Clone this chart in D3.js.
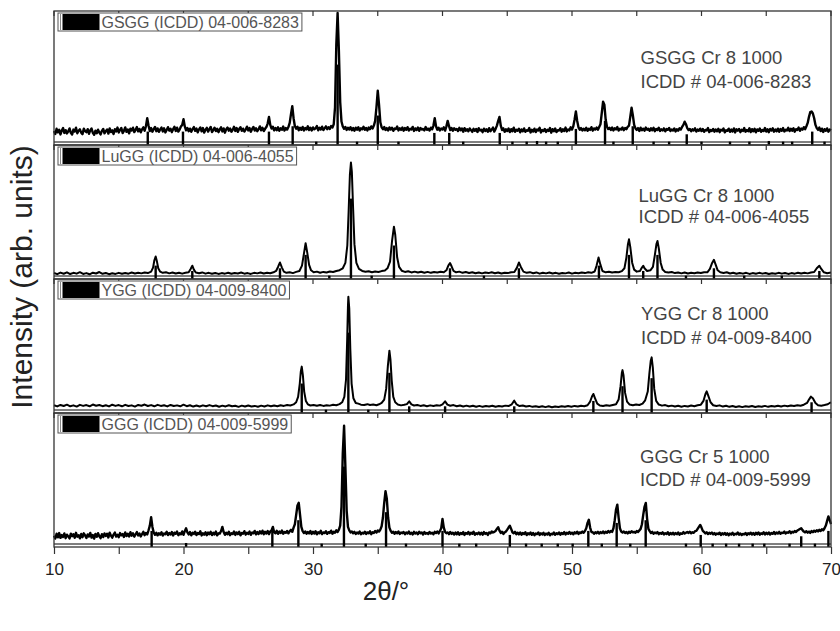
<!DOCTYPE html>
<html><head><meta charset="utf-8">
<script src="https://cdn.jsdelivr.net/npm/d3@7"></script>
<style>body{margin:0;background:#fff}</style>
</head><body><svg id="c" width="840" height="631"></svg>
<script>
// ---------- DATA (2θ, intensity in % of panel height) ----------
// GSGG and GGG: read every 0.1° starting at 10°
const gsggStart=10, gsggStep=0.1;
const gsggValues=[
10.5,8.2,12.1,9.4,11.3,7.9,10.8,12.6,9.0,11.1,
8.6,10.2,12.4,9.1,7.8,11.5,10.0,12.9,8.8,10.6,
11.7,9.2,8.1,12.2,10.4,9.6,11.8,8.4,10.9,12.3,
9.0,7.6,10.7,8.8,11.4,9.3,7.9,10.5,12.0,8.7,
10.3,11.6,8.5,12.4,9.7,10.9,8.2,11.8,10.1,13.0,
9.4,11.2,12.7,8.9,10.6,13.1,9.8,11.5,8.7,12.2,
10.8,12.9,9.6,11.3,13.4,10.2,12.0,9.5,11.7,13.2,
10.6,14.0,20.0,14.5,10.4,12.6,9.9,11.9,13.5,10.3,
12.4,9.8,11.6,13.0,10.1,12.5,9.4,11.2,13.3,10.7,
12.1,9.6,11.8,13.6,10.5,12.9,10.0,11.5,13.8,15.0,
19.2,13.9,11.0,12.7,10.3,12.2,9.8,11.9,13.4,10.6,
12.3,9.5,11.7,13.1,10.2,12.6,9.3,11.4,12.8,10.0,
11.9,13.5,9.7,11.2,12.9,10.4,12.1,9.6,11.6,13.2,
10.1,12.4,9.2,11.8,13.0,10.7,12.3,9.9,11.3,13.6,
10.5,12.7,9.8,11.9,13.3,10.6,12.2,10.0,11.5,13.7,
10.9,12.6,9.9,12.0,13.5,10.8,12.4,10.3,11.8,13.9,
11.0,12.8,10.4,12.1,13.4,16.0,21.0,15.0,12.3,13.6,
10.9,12.7,11.1,13.2,10.6,12.5,11.4,13.8,10.8,12.6,
11.5,13.4,16.5,23.0,29.0,20.0,14.0,12.2,13.6,11.0,
12.9,11.3,13.5,10.8,12.7,11.6,14.0,11.2,12.8,10.9,
13.1,11.7,12.4,14.2,11.0,12.9,11.5,13.7,11.1,12.6,
13.9,11.8,13.2,12.0,14.1,13.0,15.5,28.0,75.0,98.5,
70.0,32.0,17.5,13.8,12.1,13.5,11.2,12.8,11.6,13.3,
11.0,12.6,10.7,12.9,11.4,13.2,10.8,12.4,11.7,13.6,
11.3,12.7,10.9,13.0,11.8,13.9,12.4,14.5,18.0,28.0,
40.5,30.0,17.0,13.2,11.8,13.4,11.2,12.6,10.8,13.1,
11.5,12.9,10.6,12.3,11.9,13.8,10.9,12.5,11.3,13.0,
10.7,12.6,11.4,13.3,10.8,12.1,11.6,13.5,10.5,12.4,
11.2,13.1,10.6,12.7,11.5,12.0,10.9,13.4,11.3,12.2,
10.8,12.9,11.7,14.5,20.0,14.0,11.4,12.8,10.9,12.3,
11.6,13.2,10.7,13.9,18.0,14.2,11.1,12.7,10.6,12.5,
11.3,12.0,10.4,12.8,11.0,12.3,9.9,12.6,10.7,11.8,
10.2,12.4,11.1,9.8,12.1,10.6,11.9,9.7,12.5,10.8,
11.4,9.6,12.2,10.5,11.7,9.9,12.6,10.3,11.5,13.0,
10.0,12.0,14.5,18.0,21.0,14.5,11.2,12.4,9.8,11.7,
10.4,12.3,9.6,11.8,10.2,12.9,9.9,11.4,10.7,12.1,
9.5,11.6,10.3,12.4,9.8,11.0,10.6,12.7,9.4,11.3,
10.1,12.2,9.6,11.5,10.9,12.8,9.3,11.1,10.4,12.0,
9.7,11.4,10.5,12.6,9.2,11.8,10.3,12.3,9.6,11.0,
10.8,12.5,9.9,11.7,10.4,13.0,10.1,11.6,10.9,13.2,
11.5,14.0,19.0,25.0,18.0,13.2,11.4,12.6,10.8,12.2,
11.0,12.9,10.6,12.1,11.3,13.3,10.7,12.4,11.6,13.0,
11.4,13.5,15.5,24.0,32.3,30.0,19.0,13.6,11.9,12.8,
11.2,13.0,10.9,12.5,11.6,13.4,10.8,12.2,11.5,13.1,
11.0,12.7,11.8,13.6,14.5,21.0,27.8,22.0,15.0,12.4,
11.3,12.6,10.5,12.9,11.1,12.2,10.7,13.0,11.4,12.1,
10.6,12.5,11.0,12.8,10.3,12.0,11.2,12.9,10.5,11.7,
10.9,12.4,10.2,11.9,11.3,12.7,10.4,11.6,10.8,12.3,
10.1,11.8,10.7,12.5,11.5,13.5,15.0,17.4,15.5,12.6,
11.2,12.0,10.3,11.7,10.8,12.4,10.0,11.5,10.6,12.2,
10.4,11.9,9.8,11.3,10.9,12.6,9.7,11.1,10.5,12.0,
9.9,11.6,10.3,12.1,9.6,11.4,10.8,12.3,9.5,11.0,
10.6,12.2,9.8,11.5,10.1,12.4,9.4,11.7,10.7,12.0,
9.6,11.3,10.5,12.6,9.9,11.1,10.3,12.5,9.7,11.8,
10.2,12.1,9.5,11.6,10.6,12.3,9.8,11.2,10.4,12.7,
10.0,11.7,9.6,12.0,10.8,12.4,9.9,11.5,10.3,12.2,
9.8,11.9,10.6,12.6,10.1,11.4,10.9,12.8,10.4,12.1,
10.7,12.5,9.9,11.8,11.2,13.0,10.6,12.3,11.4,13.3,
11.8,14.0,16.5,21.0,24.5,25.0,23.5,20.0,15.0,12.6,
11.3,13.0,10.4,12.2,9.7,11.8,10.6,12.4,9.9,11.5,
10.9];

const luggData=[[10.0,4.5],[10.25,3.6],[10.5,4.8],[10.75,3.9],[11.0,5.0],[11.25,3.7],[11.5,4.6],[11.75,4.0],[12.0,5.1],[12.25,3.8],[12.5,4.4],[12.75,3.5],[13.0,4.7],[13.25,4.1],[13.5,5.2],[13.75,3.9],[14.0,4.5],[14.25,3.6],[14.5,4.3],[14.75,3.8],[15.0,4.6],[15.25,3.9],[15.5,4.4],[15.75,4.0],[16.0,4.8],[16.25,4.1],[16.5,4.6],[16.75,4.2],[17.0,4.9],[17.25,4.4],[17.5,5.5],[17.65,8.5],[17.75,14.0],[17.85,16.8],[17.95,13.0],[18.05,8.0],[18.2,5.5],[18.4,4.6],[18.65,5.0],[18.9,4.2],[19.15,4.8],[19.4,4.1],[19.65,4.7],[19.9,4.0],[20.15,4.6],[20.4,5.0],[20.55,7.5],[20.68,9.9],[20.8,7.0],[20.95,4.8],[21.2,4.3],[21.45,4.9],[21.7,4.0],[21.95,4.6],[22.2,3.9],[22.45,4.5],[22.7,3.8],[22.95,4.4],[23.2,4.0],[23.45,4.7],[23.7,3.9],[23.95,4.5],[24.2,4.1],[24.45,4.8],[24.7,4.0],[24.95,4.4],[25.2,3.8],[25.45,4.6],[25.7,4.2],[25.95,4.9],[26.2,4.1],[26.45,4.7],[26.7,4.3],[26.95,5.0],[27.15,6.0],[27.3,9.0],[27.45,12.3],[27.6,8.5],[27.75,5.5],[27.95,4.6],[28.2,5.1],[28.45,4.4],[28.7,5.3],[28.95,6.0],[29.15,10.0],[29.3,19.0],[29.43,26.7],[29.55,20.0],[29.7,10.5],[29.85,6.5],[30.05,5.0],[30.3,5.5],[30.55,4.7],[30.8,5.3],[31.05,4.9],[31.3,5.6],[31.55,5.2],[31.8,6.0],[32.05,6.6],[32.3,8.0],[32.5,12.0],[32.65,25.0],[32.75,50.0],[32.85,78.0],[32.93,86.9],[33.0,80.0],[33.1,52.0],[33.2,26.0],[33.35,12.0],[33.55,7.5],[33.8,6.0],[34.05,5.4],[34.3,5.8],[34.55,5.0],[34.8,5.6],[35.05,5.2],[35.3,5.9],[35.55,6.4],[35.75,8.0],[35.95,13.0],[36.1,28.0],[36.25,39.0],[36.35,33.0],[36.5,16.0],[36.65,9.0],[36.85,6.2],[37.1,5.3],[37.35,5.8],[37.6,4.9],[37.85,5.5],[38.1,4.8],[38.35,5.4],[38.6,4.7],[38.85,5.3],[39.1,4.6],[39.35,5.2],[39.6,4.8],[39.85,5.4],[40.1,5.0],[40.3,6.5],[40.45,10.0],[40.58,11.9],[40.7,9.5],[40.85,6.0],[41.05,5.0],[41.3,5.5],[41.55,4.6],[41.8,5.2],[42.05,4.5],[42.3,5.0],[42.55,4.3],[42.8,4.9],[43.05,4.2],[43.3,4.8],[43.55,4.4],[43.8,5.0],[44.05,4.3],[44.3,4.9],[44.55,4.1],[44.8,4.7],[45.05,4.4],[45.3,5.0],[45.55,5.3],[45.75,8.5],[45.9,12.3],[46.05,9.0],[46.25,5.5],[46.5,4.6],[46.75,5.1],[47.0,4.3],[47.25,4.9],[47.5,4.0],[47.75,4.7],[48.0,4.2],[48.25,4.8],[48.5,4.1],[48.75,4.6],[49.0,3.9],[49.25,4.5],[49.5,4.2],[49.75,4.8],[50.0,4.0],[50.25,4.6],[50.5,4.3],[50.75,4.9],[51.0,4.4],[51.25,5.0],[51.5,4.6],[51.75,5.6],[51.9,10.0],[52.05,16.0],[52.2,10.5],[52.35,6.0],[52.6,5.0],[52.85,5.4],[53.1,4.8],[53.35,5.3],[53.6,5.0],[53.85,5.9],[54.05,8.0],[54.2,16.0],[54.32,26.0],[54.4,29.6],[54.5,24.0],[54.65,12.0],[54.8,7.0],[55.0,5.5],[55.25,6.0],[55.4,8.5],[55.5,9.9],[55.6,8.0],[55.8,6.0],[56.05,6.5],[56.25,9.0],[56.4,18.0],[56.52,26.0],[56.6,28.4],[56.7,23.0],[56.85,12.0],[57.0,7.0],[57.2,5.3],[57.45,4.8],[57.7,5.2],[57.95,4.4],[58.2,4.9],[58.45,4.2],[58.7,4.8],[58.95,4.1],[59.2,4.7],[59.45,4.3],[59.7,4.9],[59.95,4.5],[60.2,5.1],[60.45,5.0],[60.65,7.5],[60.8,11.5],[60.96,14.3],[61.1,10.5],[61.25,6.5],[61.45,5.0],[61.7,4.5],[61.95,5.0],[62.2,4.1],[62.45,4.7],[62.7,3.9],[62.95,4.5],[63.2,4.0],[63.45,4.6],[63.7,3.8],[63.95,4.4],[64.2,3.9],[64.45,4.6],[64.7,4.0],[64.95,4.5],[65.2,3.7],[65.45,4.3],[65.7,3.9],[65.95,4.6],[66.2,4.0],[66.45,4.5],[66.7,3.8],[66.95,4.4],[67.2,4.0],[67.45,4.7],[67.7,4.1],[67.95,4.6],[68.2,4.2],[68.45,4.9],[68.7,5.2],[68.9,8.0],[69.1,9.9],[69.25,7.5],[69.45,5.0],[69.7,4.3],[70.0,4.8]];

const yggData=[[10.0,5.8],[10.25,4.9],[10.5,6.0],[10.75,5.2],[11.0,6.2],[11.25,5.0],[11.5,5.7],[11.75,4.8],[12.0,6.1],[12.25,5.3],[12.5,5.9],[12.75,5.0],[13.0,6.3],[13.25,5.4],[13.5,6.0],[13.75,5.1],[14.0,5.8],[14.25,4.9],[14.5,6.2],[14.75,5.3],[15.0,5.9],[15.25,5.0],[15.5,6.1],[15.75,5.2],[16.0,5.7],[16.25,4.8],[16.5,6.0],[16.75,5.4],[17.0,6.3],[17.25,5.2],[17.5,5.9],[17.75,5.0],[18.0,6.1],[18.25,5.3],[18.5,5.8],[18.75,4.9],[19.0,6.0],[19.25,5.2],[19.5,5.7],[19.75,5.0],[20.0,6.2],[20.25,5.1],[20.5,5.8],[20.75,4.8],[21.0,5.6],[21.25,4.9],[21.5,5.7],[21.75,5.0],[22.0,5.9],[22.25,5.1],[22.5,5.6],[22.75,4.7],[23.0,5.5],[23.25,4.9],[23.5,5.8],[23.75,5.0],[24.0,5.4],[24.25,4.6],[24.5,5.5],[24.75,4.8],[25.0,5.6],[25.25,4.9],[25.5,5.3],[25.75,4.7],[26.0,5.5],[26.25,4.9],[26.5,5.7],[26.75,5.0],[27.0,5.6],[27.25,5.1],[27.5,5.8],[27.75,5.3],[28.0,6.0],[28.25,5.6],[28.5,6.4],[28.7,8.0],[28.85,12.0],[28.98,22.0],[29.06,31.0],[29.13,34.6],[29.22,28.0],[29.32,16.0],[29.45,9.0],[29.6,6.5],[29.8,5.6],[30.05,6.0],[30.3,5.4],[30.55,5.9],[30.8,5.3],[31.05,5.8],[31.3,5.5],[31.55,6.1],[31.8,5.8],[32.05,6.6],[32.25,8.0],[32.42,12.0],[32.55,25.0],[32.64,55.0],[32.7,80.0],[32.73,86.8],[32.8,78.0],[32.88,48.0],[32.98,22.0],[33.12,11.0],[33.3,7.5],[33.5,7.0],[33.7,6.2],[33.95,6.0],[34.2,6.6],[34.4,6.0],[34.65,6.3],[34.9,5.8],[35.1,6.5],[35.3,7.5],[35.5,10.0],[35.65,18.0],[35.78,35.0],[35.9,46.5],[35.98,40.0],[36.08,24.0],[36.2,12.0],[36.35,8.0],[36.55,6.4],[36.8,5.7],[37.05,6.1],[37.25,6.6],[37.43,8.7],[37.6,6.4],[37.8,5.6],[38.05,6.0],[38.3,5.3],[38.55,5.8],[38.8,5.1],[39.05,5.7],[39.3,5.2],[39.55,5.8],[39.8,5.5],[40.0,6.5],[40.2,8.7],[40.38,6.3],[40.6,5.4],[40.85,5.9],[41.1,5.0],[41.35,5.6],[41.6,4.9],[41.85,5.5],[42.1,4.8],[42.35,5.4],[42.6,4.7],[42.85,5.3],[43.1,4.6],[43.35,5.2],[43.6,4.8],[43.85,5.4],[44.1,4.7],[44.35,5.2],[44.6,4.9],[44.85,5.5],[45.1,5.2],[45.35,6.5],[45.54,9.2],[45.72,6.4],[45.95,5.2],[46.2,5.6],[46.45,4.8],[46.7,5.3],[46.95,4.6],[47.2,5.1],[47.45,4.5],[47.7,5.0],[47.95,4.4],[48.2,5.0],[48.45,4.3],[48.7,4.9],[48.95,4.5],[49.2,5.1],[49.45,4.6],[49.7,5.2],[49.95,4.7],[50.2,5.3],[50.45,4.9],[50.7,5.4],[50.95,5.1],[51.2,5.8],[51.4,8.5],[51.55,12.5],[51.65,14.2],[51.78,11.0],[51.95,7.0],[52.15,5.6],[52.4,5.2],[52.65,5.8],[52.9,5.4],[53.15,6.0],[53.4,6.6],[53.6,10.0],[53.75,20.0],[53.85,30.0],[53.9,32.0],[53.98,28.0],[54.1,15.0],[54.25,8.5],[54.45,6.3],[54.7,5.8],[54.95,6.4],[55.2,6.0],[55.45,7.0],[55.65,9.5],[55.85,16.0],[55.98,30.0],[56.08,39.0],[56.15,41.5],[56.24,34.0],[56.35,18.0],[56.5,9.0],[56.7,6.3],[56.95,5.5],[57.2,5.9],[57.45,5.0],[57.7,5.5],[57.95,4.8],[58.2,5.4],[58.45,4.7],[58.7,5.3],[58.95,4.9],[59.2,5.6],[59.45,5.1],[59.7,5.8],[59.95,6.2],[60.15,9.0],[60.3,14.0],[60.4,16.2],[60.52,13.0],[60.7,8.0],[60.9,5.8],[61.15,5.2],[61.4,5.7],[61.65,4.8],[61.9,5.4],[62.15,4.6],[62.4,5.2],[62.65,4.5],[62.9,5.0],[63.15,4.4],[63.4,5.1],[63.65,4.6],[63.9,5.2],[64.15,4.5],[64.4,5.0],[64.65,4.7],[64.9,5.3],[65.15,4.6],[65.4,5.2],[65.65,4.8],[65.9,5.4],[66.15,4.9],[66.4,5.5],[66.65,5.0],[66.9,5.6],[67.15,5.2],[67.4,5.8],[67.65,5.4],[67.9,6.2],[68.15,7.5],[68.3,10.0],[68.45,12.2],[68.6,11.0],[68.8,7.5],[69.0,5.8],[69.25,5.4],[69.5,5.9],[69.75,6.5],[69.9,7.5],[70.0,8.0]];

const gggStart=10, gggStep=0.1;
const gggValues=[
8.4,6.3,9.9,7.2,10.4,6.8,8.9,7.5,10.1,6.6,
9.2,7.9,6.4,10.0,8.1,9.5,6.9,10.6,7.7,8.8,
6.5,9.7,7.3,10.2,8.6,6.7,9.4,7.8,10.5,7.0,
8.9,6.2,9.8,7.6,10.3,8.0,6.6,9.6,7.4,10.1,
8.3,9.9,7.1,10.7,8.5,7.0,9.3,10.8,7.8,9.1,
7.3,10.4,8.7,9.6,7.5,10.9,8.2,9.8,7.9,11.0,
8.4,10.2,7.7,9.5,11.1,8.6,10.0,7.9,9.7,11.3,
8.8,10.5,9.4,12.5,16.0,22.3,15.0,10.8,9.1,10.6,
8.7,10.3,9.2,11.0,8.5,10.1,9.6,11.4,8.9,10.4,
9.3,11.2,8.6,10.7,9.9,11.5,8.8,10.2,9.5,11.6,
9.1,11.8,14.0,10.9,9.4,11.1,8.7,10.6,9.8,11.4,
8.9,10.5,9.7,11.7,8.6,10.3,9.2,11.0,8.8,10.8,
9.6,11.3,8.9,10.6,9.4,11.5,8.7,10.2,10.0,11.9,
15.0,11.2,9.1,10.7,9.5,11.4,8.8,10.3,9.7,11.6,
9.0,10.9,9.6,11.3,8.7,10.5,9.9,11.8,9.2,10.6,
9.8,11.5,9.1,10.8,10.2,12.0,9.4,11.1,9.7,11.7,
10.1,12.2,9.5,11.4,10.0,11.9,9.6,11.6,12.4,15.0,
11.0,10.3,12.1,9.8,11.5,10.4,12.3,9.9,11.2,10.6,
12.0,10.2,11.7,12.8,11.3,14.5,17.0,24.0,31.0,33.0,
24.0,15.0,11.8,10.4,11.6,9.9,11.2,10.1,11.9,9.7,
11.3,10.0,11.8,9.5,11.0,10.3,12.1,9.6,10.9,10.4,
11.7,9.8,11.1,10.5,12.2,9.9,11.4,10.7,12.5,11.2,
13.0,16.0,30.0,70.0,90.5,60.0,27.0,15.0,12.4,10.9,
11.6,10.2,11.3,9.7,10.8,10.1,11.5,9.5,10.7,10.0,
11.4,9.8,10.9,10.3,11.7,9.6,11.0,10.5,12.0,10.8,
12.3,11.5,13.0,15.5,22.0,33.0,41.6,36.0,22.0,14.5,
12.0,10.6,11.4,9.9,11.1,10.2,11.6,9.7,10.8,10.3,
11.2,9.5,10.9,10.1,11.5,9.8,10.6,9.4,11.3,10.0,
10.8,9.6,11.4,10.2,10.9,9.3,11.1,9.9,10.5,9.7,
11.2,10.0,10.7,9.5,11.3,10.4,11.6,10.1,12.0,14.0,
21.0,14.5,11.3,10.2,10.9,9.6,11.2,9.8,10.6,9.3,
10.8,9.5,11.0,9.2,10.4,9.7,11.1,9.0,10.5,9.8,
11.2,9.3,10.6,9.9,11.4,9.1,10.3,9.6,10.9,9.4,
10.7,9.2,11.1,9.8,10.5,9.0,10.9,10.2,11.6,10.8,
11.3,12.0,13.5,14.8,12.2,10.5,11.4,9.8,10.9,11.6,
13.0,14.5,15.8,13.5,11.0,10.2,11.3,9.6,10.7,9.4,
10.9,9.2,10.5,9.7,11.0,8.9,10.3,9.5,10.8,9.1,
10.4,8.8,10.1,9.6,10.9,9.0,10.2,9.4,10.6,8.9,
10.0,9.3,10.7,8.7,9.9,9.5,10.8,9.1,10.3,9.6,
10.9,9.2,10.5,9.7,11.1,9.4,10.6,9.9,11.2,9.8,
10.7,9.5,11.0,10.1,11.4,9.8,10.9,10.4,11.5,10.6,
12.0,14.0,18.0,20.3,14.5,11.2,11.0,9.9,11.0,10.3,
11.3,10.0,11.1,10.4,11.6,10.2,11.4,10.7,11.9,10.9,
12.0,11.3,14.0,20.0,28.0,31.6,22.0,14.0,11.5,10.8,
11.6,10.5,11.2,10.1,11.4,10.6,11.8,10.9,11.3,10.7,
11.9,11.2,12.4,13.5,17.0,24.0,30.0,32.9,21.0,13.5,
11.8,10.4,11.3,9.9,10.8,10.2,11.1,9.6,10.5,9.8,
10.9,9.4,10.3,9.7,11.0,9.2,10.5,9.5,10.7,9.3,
10.4,9.6,10.9,9.1,10.2,9.8,11.1,10.0,10.6,11.2,
10.5,11.4,10.2,11.0,10.6,11.8,12.0,13.5,15.0,16.5,
14.5,12.0,11.2,10.1,11.0,9.7,10.6,9.9,10.8,9.5,
10.4,9.2,10.1,9.6,10.7,9.0,10.3,9.4,10.5,9.1,
10.2,8.8,10.0,9.3,10.6,9.0,9.9,9.5,10.8,9.2,
10.1,8.9,9.8,9.4,10.5,9.0,10.2,9.6,10.7,9.3,
10.4,9.1,10.6,9.5,10.9,9.2,10.3,9.7,11.0,9.4,
10.6,9.6,10.9,9.3,10.4,9.8,11.2,9.7,10.8,10.0,
11.3,9.9,10.7,10.4,11.5,10.1,11.0,10.6,11.8,10.3,
11.4,10.8,11.9,11.2,12.3,12.8,13.4,14.0,12.6,11.5,
10.9,11.8,10.7,11.5,10.5,11.9,11.1,12.2,11.4,12.5,
11.6,12.8,11.9,13.2,12.5,14.0,16.0,19.5,22.8,20.0,
17.0];

// ICDD reference sticks [2θ, relative height]
const gsggSticks=[[17.24,10],[19.96,10],[26.6,10],[28.43,14],[30.25,2.5],[31.9,60],[33.4,2.5],[35.0,22],[36.6,2.5],[39.37,9],[40.52,9],[41.6,2.5],[44.42,9],[45.4,2.5],[46.5,2.5],[47.3,3],[48.0,2.5],[48.9,2.5],[50.3,12],[52.55,18],[53.2,2.5],[54.69,14],[56.3,2.5],[57.5,2.5],[58.86,8],[60.0,2.5],[62.2,2.5],[63.7,2.5],[65.2,3],[66.3,2.5],[67.0,2.5],[68.55,10],[69.5,2.5]];
const luggSticks=[[17.85,10],[20.68,6],[27.45,8],[29.43,18],[31.26,2.5],[32.93,60],[34.53,2.5],[36.25,25],[40.58,8],[43.2,2.5],[45.9,8],[52.08,10],[54.4,18],[55.5,6],[56.6,18],[58.8,2.5],[60.96,8],[63.3,2.5],[66.2,2.5],[69.1,6]];
const yggSticks=[[29.13,22],[31.0,2.5],[32.73,60],[34.27,2.5],[35.9,30],[37.43,5],[40.2,5],[45.54,5],[51.65,9],[53.9,20],[56.15,26],[60.4,10],[68.5,8]];
const gggSticks=[[17.54,12],[20.2,3],[26.86,14],[28.87,20],[30.67,2.5],[32.39,60],[34.07,2.5],[35.64,26],[37.18,2.5],[40.0,12],[41.3,2.5],[42.6,2.5],[45.2,9],[46.45,2.5],[47.66,2.5],[48.9,2.5],[50.05,2.5],[51.26,12],[52.3,2.5],[53.45,18],[54.5,2.5],[55.69,20],[58.8,2.5],[59.94,9],[60.86,2.5],[61.9,2.5],[62.9,2.5],[63.95,2.5],[64.85,2.5],[66.8,2.5],[67.7,8],[68.76,2.5],[69.8,12]];

const legendLabels=["GSGG (ICDD) 04-006-8283","LuGG (ICDD) 04-006-4055","YGG (ICDD) 04-009-8400","GGG (ICDD) 04-009-5999"];
const sampleLabels=["GSGG Cr 8 1000","LuGG Cr 8 1000","YGG Cr 8 1000","GGG Cr 5 1000"];
const icddLabels=["ICDD # 04-006-8283","ICDD # 04-006-4055","ICDD # 04-009-8400","ICDD # 04-009-5999"];
const xTickValues=[10,15,20,25,30,35,40,45,50,55,60,65,70];
const xTickLabels=[10,20,30,40,50,60,70];
const xTitle="2θ/°";
const yTitle="Intensity (arb. units)";

// ---------- LAYOUT ----------
const FONT='"Liberation Sans", Arial, sans-serif';
const svg=d3.select("#c");
const L=54, R=831, TOP=11, BOT=547;
const x=d3.scaleLinear().domain([10,70]).range([L,R]);
const gsggData=gsggValues.map((v,i)=>[gsggStart+i*gsggStep,v]);
const gggData=gggValues.map((v,i)=>[gggStart+i*gggStep,v]);
const datas=[gsggData,luggData,yggData,gggData];
const sticks=[gsggSticks,luggSticks,yggSticks,gggSticks];
const widths=[2.4,2.0,2.0,2.4];
const ph=(BOT-TOP)/4;
const labelPos=[[640.5,64.3,88.3],[638.5,201.7,223.3],[641,320,344],[640,462.7,486]];

datas.forEach((data,i)=>{
  const t=TOP+i*ph, b=t+ph;
  const y=d3.scaleLinear().domain([0,100]).range([b,t]);
  const g=svg.append("g");
  // reference sticks and their zero line
  g.append("line").attr("x1",L).attr("x2",R).attr("y1",b-3).attr("y2",b-3).attr("stroke","#000").attr("stroke-width",1);
  g.selectAll("rect.stk").data(sticks[i]).join("rect")
    .attr("x",d=>x(d[0])-1.2).attr("width",2.4)
    .attr("y",d=>y(d[1])).attr("height",d=>b-y(d[1])).attr("fill","#000");
  // pattern
  g.append("path").datum(data)
    .attr("d",d3.line().x(d=>x(d[0])).y(d=>y(d[1])))
    .attr("fill","none").attr("stroke","#000").attr("stroke-width",widths[i]).attr("stroke-linejoin","round");
  // frame
  g.append("rect").attr("x",L).attr("y",t).attr("width",R-L).attr("height",ph)
    .attr("fill","none").attr("stroke","#333").attr("stroke-width",1.3);
  // top ticks (inward)
  g.selectAll("line.tt").data(xTickValues).join("line")
    .attr("x1",d=>x(d)).attr("x2",d=>x(d)).attr("y1",t).attr("y2",t+5)
    .attr("stroke","#333").attr("stroke-width",1.2);
  // legend
  const lg=g.append("g");
  const box=lg.append("rect").attr("x",58).attr("y",t+2).attr("height",18).attr("fill","#fff").attr("stroke","#555").attr("stroke-width",1);
  lg.append("line").attr("x1",60.5).attr("x2",60.5).attr("y1",t+3).attr("y2",t+19).attr("stroke","#888").attr("stroke-width",1);
  lg.append("rect").attr("x",62.5).attr("y",t+3).attr("width",37).attr("height",16).attr("fill","#000");
  const lt=lg.append("text").attr("x",101.5).attr("y",t+17).text(legendLabels[i])
    .attr("font-family",FONT).attr("font-size",16).attr("fill","#555");
  const w=lt.node().getComputedTextLength();
  box.attr("width",101.5+w+3-58);
  // sample labels
  const p=labelPos[i];
  g.append("text").attr("x",p[0]).attr("y",p[1]).text(sampleLabels[i]).attr("font-family",FONT).attr("font-size",18.5).attr("fill","#444");
  g.append("text").attr("x",p[0]).attr("y",p[2]).text(icddLabels[i]).attr("font-family",FONT).attr("font-size",18.5).attr("fill","#444");
});

// bottom axis
const ax=svg.append("g").attr("transform",`translate(0,${BOT})`)
  .call(d3.axisBottom(x).tickValues(xTickValues).tickSize(7).tickFormat(d=>xTickLabels.includes(d)?d:""));
ax.select(".domain").remove();
ax.selectAll("line").attr("stroke","#333").attr("stroke-width",1.2);
ax.selectAll("text").attr("font-family",FONT).attr("font-size",17).attr("fill","#222").attr("dy","1.05em");

svg.append("text").attr("x",386).attr("y",600).attr("text-anchor","middle")
  .attr("font-family",FONT).attr("font-size",26).attr("fill","#222").text(xTitle);
svg.append("text").attr("transform","translate(32,277) rotate(-90)").attr("text-anchor","middle")
  .attr("font-family",FONT).attr("font-size",30).attr("fill","#222").text(yTitle);
</script></body></html>
